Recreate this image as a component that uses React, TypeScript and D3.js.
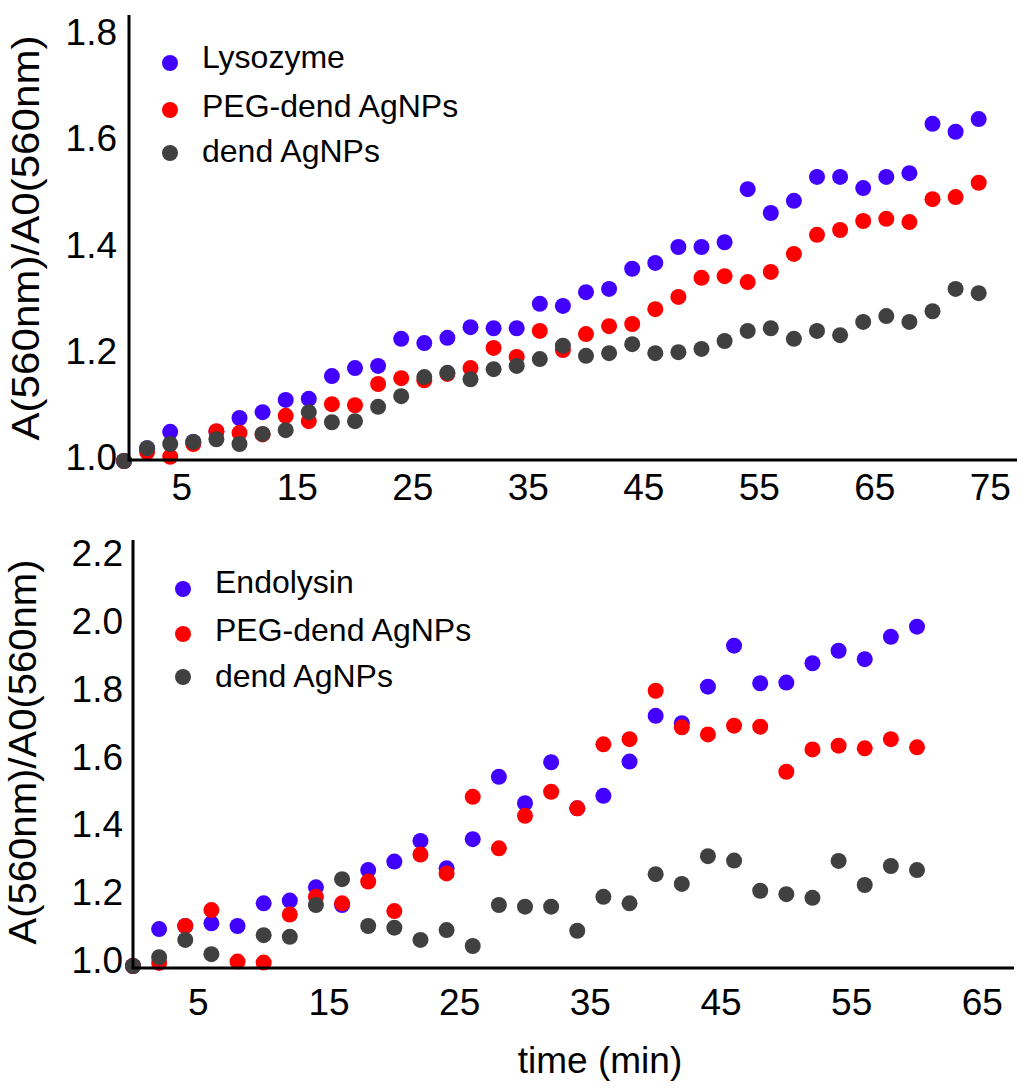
import React from "react";
import { scaleLinear, format } from "d3";

// ---- top panel (lysozyme) ----
const topTimes = [0, 2, 4, 6, 8, 10, 12, 14, 16, 18, 20, 22, 24, 26, 28, 30, 32, 34, 36, 38,
  40, 42, 44, 46, 48, 50, 52, 54, 56, 58, 60, 62, 64, 66, 68, 70, 72, 74];
const lysozyme = [1.0, 1.024, 1.055, 1.036, 1.055, 1.081, 1.092, 1.115, 1.117, 1.16, 1.175, 1.179,
  1.23, 1.222, 1.232, 1.252, 1.25, 1.25, 1.296, 1.292, 1.318, 1.324, 1.362, 1.373, 1.403, 1.403,
  1.412, 1.512, 1.467, 1.49, 1.535, 1.535, 1.514, 1.535, 1.542, 1.635, 1.62, 1.644];
const pegTop = [1.0, 1.017, 1.008, 1.032, 1.056, 1.053, 1.05, 1.085, 1.075, 1.107, 1.105, 1.145,
  1.156, 1.152, 1.164, 1.175, 1.213, 1.196, 1.245, 1.209, 1.239, 1.254, 1.258, 1.286, 1.309, 1.345,
  1.348, 1.337, 1.356, 1.39, 1.426, 1.435, 1.452, 1.456, 1.45, 1.493, 1.497, 1.524];
const dendTop = [1.0, 1.024, 1.032, 1.036, 1.041, 1.032, 1.051, 1.058, 1.092, 1.073, 1.075, 1.102,
  1.122, 1.158, 1.166, 1.154, 1.173, 1.179, 1.192, 1.217, 1.198, 1.203, 1.22, 1.203, 1.205, 1.211,
  1.226, 1.245, 1.25, 1.23, 1.245, 1.237, 1.262, 1.273, 1.262, 1.282, 1.324, 1.316];

// ---- bottom panel (endolysin) ----
const bottomTimes = [0, 2, 4, 6, 8, 10, 12, 14, 16, 18, 20, 22, 24, 26, 28, 30, 32, 34, 36, 38,
  40, 42, 44, 46, 48, 50, 52, 54, 56, 58, 60];
const endolysin = [1.0, 1.109, 1.118, 1.126, 1.118, 1.185, 1.193, 1.232, 1.18, 1.283, 1.308, 1.369,
  1.288, 1.374, 1.558, 1.48, 1.601, 1.465, 1.502, 1.603, 1.738, 1.716, 1.824, 1.945, 1.834, 1.836,
  1.893, 1.93, 1.905, 1.971, 2.001];
const pegBottom = [1.0, 1.009, 1.118, 1.165, 1.013, 1.01, 1.152, 1.204, 1.185, 1.249, 1.162, 1.329,
  1.273, 1.499, 1.347, 1.443, 1.514, 1.465, 1.654, 1.669, 1.812, 1.704, 1.683, 1.709, 1.706, 1.573,
  1.639, 1.65, 1.642, 1.669, 1.645];
// no gray dot visible at 8 min
const dendBottom = [1.0, 1.026, 1.077, 1.035, null, 1.091, 1.086, 1.18, 1.256, 1.118, 1.113, 1.077,
  1.106, 1.059, 1.18, 1.175, 1.175, 1.104, 1.204, 1.185, 1.271, 1.242, 1.324, 1.311, 1.222, 1.212,
  1.201, 1.31, 1.239, 1.295, 1.283];

const topXTicks = [5, 15, 25, 35, 45, 55, 65, 75];
const bottomXTicks = [5, 15, 25, 35, 45, 55, 65];
const topYTicks = [1.0, 1.2, 1.4, 1.6, 1.8];
const bottomYTicks = [1.0, 1.2, 1.4, 1.6, 1.8, 2.0, 2.2];

const topLegend = ["Lysozyme", "PEG-dend AgNPs", "dend AgNPs"];
const bottomLegend = ["Endolysin", "PEG-dend AgNPs", "dend AgNPs"];
const colors = ["#4200ff", "#ff0000", "#404040"];

const FONT = "'Liberation Sans', Arial, sans-serif";
const fmt = format(".1f");

interface PanelProps {
  times: number[];
  series: (number | null)[][];
  legend: string[];
  xScale: any;
  yScale: any;
  xTicks: number[];
  yTicks: number[];
  yAxisX: number;
  xAxisY: number;
  xAxisEnd: number;
  yAxisTop: number;
  xTickBase: number;
  yTickRight: number;
  yTickDy: number;
  legendX: number;
  legendDotY: number[];
  legendBase: number[];
  yLabelX: number;
  yLabelY: number;
  yLabelLen: number;
}

const Panel: React.FC<PanelProps> = (p) => {
  return (
    <g>
      {/* dots: blue first, then red, gray on top */}
      {p.series.map((vals, si) => (
        <g key={`s${si}`} fill={colors[si]}>
          {vals.map((v, i) =>
            v === null ? null : (
              <circle key={i} cx={p.xScale(p.times[i])} cy={p.yScale(v)} r={8} />
            )
          )}
        </g>
      ))}

      {/* axes */}
      <line x1={p.yAxisX} x2={p.yAxisX} y1={p.yAxisTop} y2={p.xAxisY + 1.5}
        stroke="#000" strokeWidth={3} />
      <line x1={p.yAxisX} x2={p.xAxisEnd} y1={p.xAxisY} y2={p.xAxisY}
        stroke="#000" strokeWidth={3} />

      {p.xTicks.map((t) => (
        <text key={`xt${t}`} x={p.xScale(t)} y={p.xTickBase} textAnchor="middle"
          fontSize={37} fontFamily={FONT}>{t}</text>
      ))}
      {p.yTicks.map((v) => (
        <text key={`yt${v}`} x={p.yTickRight} y={p.yScale(v) + p.yTickDy} textAnchor="end"
          fontSize={37} fontFamily={FONT}>{fmt(v)}</text>
      ))}

      <text transform={`translate(${p.yLabelX},${p.yLabelY}) rotate(-90)`} textAnchor="middle"
        dominantBaseline="central" fontSize={38} fontFamily={FONT}
        textLength={p.yLabelLen} lengthAdjust="spacingAndGlyphs">
        A(560nm)/A0(560nm)
      </text>

      {/* legend */}
      {p.legend.map((name, i) => (
        <g key={name + i}>
          <circle cx={p.legendX} cy={p.legendDotY[i]} r={8} fill={colors[i]} />
          <text x={p.legendX + 32} y={p.legendBase[i]} fontSize={32} fontFamily={FONT}>{name}</text>
        </g>
      ))}
    </g>
  );
};

const App: React.FC = () => {
  // top panel scales (tick labels in the source are slightly uneven, this splits the difference)
  const xTop = scaleLinear().domain([0, 74]).range([124, 124 + 74 * 11.55]);
  const yTop = scaleLinear().domain([1.0, 1.8]).range([461, 36.2]);

  const xBot = scaleLinear().domain([0, 60]).range([133, 917]);
  const yBot = scaleLinear().domain([1.0, 2.2]).range([966, 559.2]);

  return (
    <div style={{ position: "absolute", left: 0, top: 0 }}>
      <svg width={1026} height={1089} style={{ display: "block", background: "#fff" }}>
        <Panel
          times={topTimes}
          series={[lysozyme, pegTop, dendTop]}
          legend={topLegend}
          xScale={xTop}
          yScale={yTop}
          xTicks={topXTicks}
          yTicks={topYTicks}
          yAxisX={129}
          xAxisY={460}
          xAxisEnd={1017}
          yAxisTop={15}
          xTickBase={500}
          yTickRight={117}
          yTickDy={9}
          legendX={170}
          legendDotY={[63, 110, 153]}
          legendBase={[68, 117, 162]}
          yLabelX={26}
          yLabelY={238}
          yLabelLen={405}
        />
        <Panel
          times={bottomTimes}
          series={[endolysin, pegBottom, dendBottom]}
          legend={bottomLegend}
          xScale={xBot}
          yScale={yBot}
          xTicks={bottomXTicks}
          yTicks={bottomYTicks}
          yAxisX={133}
          xAxisY={968}
          xAxisEnd={1014}
          yAxisTop={540}
          xTickBase={1015}
          yTickRight={123}
          yTickDy={7}
          legendX={183}
          legendDotY={[589, 634, 677]}
          legendBase={[593, 641, 687]}
          yLabelX={23}
          yLabelY={752}
          yLabelLen={385}
        />
        <text x={600} y={1073} textAnchor="middle" fontSize={37} fontFamily={FONT}>
          time (min)
        </text>
      </svg>
    </div>
  );
};

export default App;
